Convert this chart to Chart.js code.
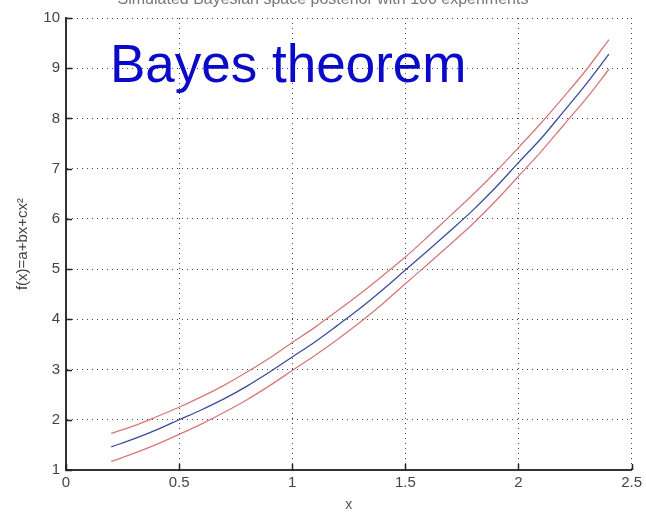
<!DOCTYPE html>
<html>
<head>
<meta charset="utf-8">
<script src="https://cdn.jsdelivr.net/npm/chart.js@4/dist/chart.umd.min.js"></script>
<style>
  html, body { margin: 0; padding: 0; background: #ffffff; }
  #wrap { position: relative; width: 646px; height: 514px; overflow: hidden; }
  #c { position: absolute; left: 0; top: 0; }
  #toptitle { position: absolute; left: 0; width: 646px; top: -9px; text-align: center;
    font-family: "Liberation Sans", Arial, sans-serif; font-size: 16px; color: #777; line-height: 1; }
  #bayes { position: absolute; left: 110px; top: 37px; font-family: "Liberation Sans", Arial, sans-serif;
    font-size: 53px; line-height: 1; color: #0a0ac8; white-space: nowrap; }
</style>
</head>
<body>
<div id="wrap">
  <canvas id="c" width="646" height="514"></canvas>
  <div id="toptitle">Simulated Bayesian space posterior with 100 experiments</div>
  <div id="bayes">Bayes theorem</div>
</div>
<script>
// ---- data ----
const xValues = [0.2, 0.3, 0.4, 0.5, 0.6, 0.7, 0.8, 0.9, 1.0, 1.1, 1.2, 1.3, 1.4, 1.5, 1.6, 1.7, 1.8, 1.9, 2.0, 2.1, 2.2, 2.3, 2.4];
const meanCurve  = [1.46, 1.62, 1.80, 2.00, 2.20, 2.42, 2.67, 2.95, 3.25, 3.55, 3.88, 4.22, 4.59, 4.98, 5.37, 5.77, 6.18, 6.63, 7.12, 7.60, 8.14, 8.69, 9.28];
const upperCurve = [1.73, 1.88, 2.06, 2.25, 2.46, 2.69, 2.95, 3.23, 3.54, 3.84, 4.17, 4.51, 4.87, 5.24, 5.65, 6.07, 6.49, 6.94, 7.42, 7.91, 8.43, 8.97, 9.57];
const lowerCurve = [1.17, 1.33, 1.51, 1.71, 1.92, 2.15, 2.40, 2.68, 2.98, 3.28, 3.60, 3.94, 4.31, 4.71, 5.10, 5.50, 5.91, 6.36, 6.85, 7.34, 7.87, 8.40, 8.98];
const xTicks = [0, 0.5, 1, 1.5, 2, 2.5];
const xTickLabels = ["0", "0.5", "1", "1.5", "2", "2.5"];
const yTicks = [1, 2, 3, 4, 5, 6, 7, 8, 9, 10];
const xTitle = "x";
const yTitle = "f(x)=a+bx+cx\u00B2";

function pts(ys) { return xValues.map((x, i) => ({ x: x, y: ys[i] })); }

const innerTicks = {
  id: 'innerTicks',
  afterDraw(chart) {
    const ctx = chart.ctx, xs = chart.scales.x, ys = chart.scales.y;
    const a = chart.chartArea;
    ctx.save();
    ctx.strokeStyle = '#222';
    ctx.lineWidth = 1.5;
    ctx.beginPath();
    xTicks.forEach(v => { const px = Math.round(xs.getPixelForValue(v)) + 0.5; ctx.moveTo(px, a.bottom); ctx.lineTo(px, a.bottom - 6); });
    yTicks.forEach(v => { const py = Math.round(ys.getPixelForValue(v)) + 0.5; ctx.moveTo(a.left, py); ctx.lineTo(a.left + 6, py); });
    ctx.stroke();
    ctx.restore();
  }
};

const gridCommon = { color: '#444', lineWidth: 1, drawTicks: false };

new Chart(document.getElementById('c'), {
  type: 'scatter',
  data: {
    datasets: [
      { data: pts(upperCurve), showLine: true, borderColor: '#d8787a', borderWidth: 1.3, pointRadius: 0, cubicInterpolationMode: 'monotone', fill: false },
      { data: pts(meanCurve),  showLine: true, borderColor: '#3b4c9e', borderWidth: 1.3, pointRadius: 0, cubicInterpolationMode: 'monotone', fill: false },
      { data: pts(lowerCurve), showLine: true, borderColor: '#d8787a', borderWidth: 1.3, pointRadius: 0, cubicInterpolationMode: 'monotone', fill: false }
    ]
  },
  options: {
    responsive: false,
    animation: false,
    layout: { padding: { left: 0, right: 12, top: 18, bottom: 0 } },
    plugins: { legend: { display: false }, tooltip: { enabled: false }, title: { display: false } },
    scales: {
      x: {
        type: 'linear', min: 0, max: 2.5,
        afterBuildTicks: s => { s.ticks = xTicks.map(v => ({ value: v })); },
        afterFit: s => { s.height = 44; },
        grid: gridCommon,
        border: { display: true, color: '#333', width: 2, dash: [1, 4] },
        ticks: { color: '#444', padding: 4, maxRotation: 0, autoSkip: false,
          callback: (v) => { const i = xTicks.indexOf(v); return i >= 0 ? xTickLabels[i] : String(v); },
          font: { family: '"Liberation Sans", Arial, sans-serif', size: 15 } },
        title: { display: true, text: xTitle, color: '#555', padding: { top: 0, bottom: 0 },
          font: { family: '"Liberation Sans", Arial, sans-serif', size: 14 } }
      },
      y: {
        type: 'linear', min: 1, max: 10,
        afterBuildTicks: s => { s.ticks = yTicks.map(v => ({ value: v })); },
        afterFit: s => { s.width = 66; },
        grid: gridCommon,
        border: { display: true, color: '#333', width: 2, dash: [1, 4] },
        ticks: { color: '#444', padding: 6, autoSkip: false,
          font: { family: '"Liberation Sans", Arial, sans-serif', size: 15 } },
        title: { display: true, text: yTitle, color: '#444', padding: { top: 14, bottom: 0 },
          font: { family: '"Liberation Sans", Arial, sans-serif', size: 15 } }
      }
    }
  },
  plugins: [innerTicks]
});
</script>
</body>
</html>
